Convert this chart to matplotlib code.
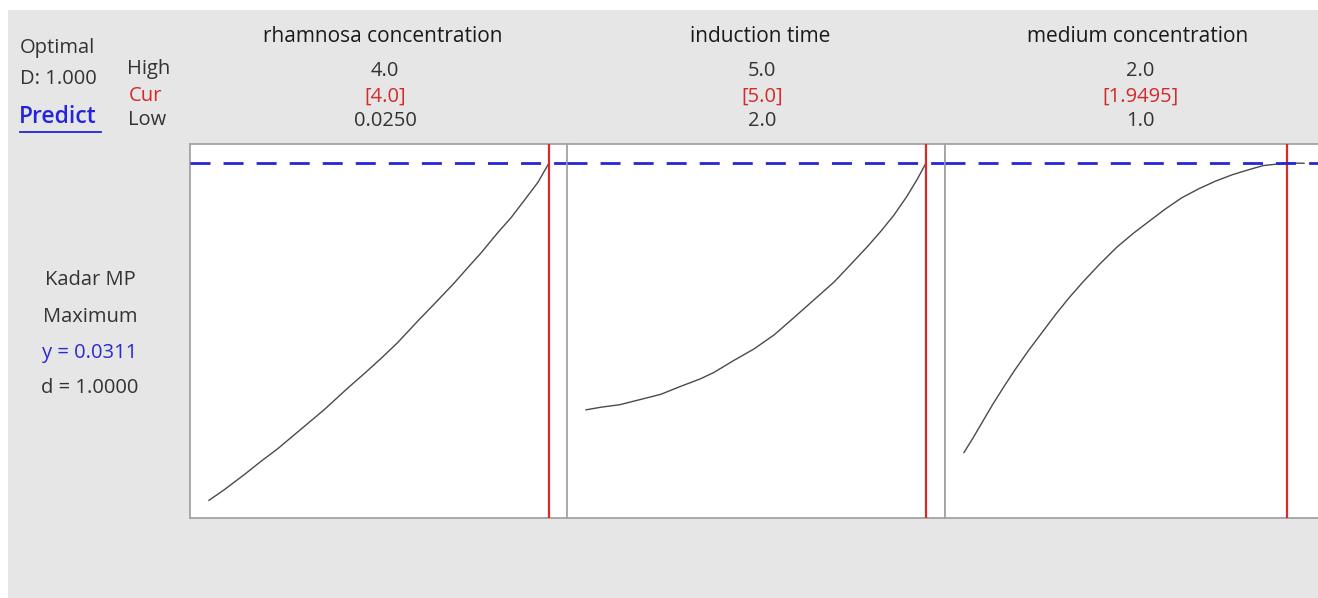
import matplotlib
matplotlib.use("Agg")
import matplotlib.pyplot as plt
from matplotlib.lines import Line2D
from matplotlib.patches import Rectangle

plt.rcParams['font.family'] = ['Open Sans', 'DejaVu Sans']
plt.rcParams['lines.scale_dashes'] = False

# ---------------- data ----------------
factors = ["rhamnosa concentration", "induction time", "medium concentration"]
high_labels = ["4.0", "5.0", "2.0"]
cur_labels = ["[4.0]", "[5.0]", "[1.9495]"]
low_labels = ["0.0250", "2.0", "1.0"]
low_vals = [0.025, 2.0, 1.0]
high_vals = [4.0, 5.0, 2.0]
cur_vals = [4.0, 5.0, 1.9495]

y_opt = 0.0311

rham_x = [0.025, 0.20, 0.44, 0.63, 0.83, 1.10, 1.37, 1.65, 1.84, 2.04, 2.23, 2.47, 2.66,
          2.89, 3.05, 3.20, 3.40, 3.56, 3.71, 3.87, 4.0]
rham_y = [0.0050, 0.0058, 0.0070, 0.0080, 0.0090, 0.0105, 0.0120, 0.0137, 0.0148, 0.0160,
          0.0172, 0.0189, 0.0202, 0.0218, 0.0230, 0.0241, 0.0257, 0.0269, 0.0282, 0.0296, 0.0311]

ind_x = [2.0, 2.13, 2.30, 2.48, 2.66, 2.83, 3.01, 3.13, 3.30, 3.48, 3.66, 3.83, 4.01, 4.19,
         4.33, 4.48, 4.60, 4.72, 4.83, 4.92, 5.0]
ind_y = [0.0120, 0.0122, 0.0124, 0.0128, 0.0132, 0.0138, 0.0144, 0.0149, 0.0158, 0.0167,
         0.0178, 0.0191, 0.0205, 0.0219, 0.0232, 0.0246, 0.0258, 0.0271, 0.0285, 0.0298, 0.0311]

med_x = [1.0, 1.026, 1.055, 1.084, 1.12, 1.15, 1.19, 1.23, 1.27, 1.31, 1.35, 1.40, 1.45,
         1.50, 1.55, 1.59, 1.64, 1.69, 1.74, 1.79, 1.84, 1.88, 1.9495, 2.0]
med_y = [0.0087, 0.0098, 0.0111, 0.0124, 0.0139, 0.0151, 0.0166, 0.0180, 0.0194, 0.0207,
         0.0219, 0.0233, 0.0246, 0.0257, 0.0267, 0.0275, 0.0284, 0.0291, 0.0297, 0.0302,
         0.0306, 0.0309, 0.0311, 0.03108]

curves_x = [rham_x, ind_x, med_x]
curves_y = [rham_y, ind_y, med_y]

# ---------------- figure ----------------
W, H = 1318, 598
fig = plt.figure(figsize=(W / 100, H / 100), dpi=100)
fig.patch.set_facecolor('white')
fig.add_artist(Rectangle((8 / W, 0), 1 - 8 / W, 1 - 10 / H, transform=fig.transFigure,
                         facecolor='#e6e6e6', edgecolor='none', zorder=0))

def fx(px):
    return px / W

def fy(py):
    return 1 - py / H

panel_left = [190, 567, 945]
panel_w = 378
top_px, bot_px = 144, 518
gray = '#a3a3a3'

ylim = (0.00363, 0.03257)

small = 14.5
for i in range(3):
    ax = fig.add_axes([fx(panel_left[i]), fy(bot_px), panel_w / W, (bot_px - top_px) / H])
    ax.set_facecolor('white')
    lo, hi = low_vals[i], high_vals[i]
    span = hi - lo
    m = span * 19 / 340
    ax.set_xlim(lo - m, hi + m)
    ax.set_ylim(*ylim)
    ax.set_xticks([])
    ax.set_yticks([])
    for s in ax.spines.values():
        s.set_color(gray)
        s.set_linewidth(1.3)
    ax.plot(curves_x[i], curves_y[i], color='#4a4a4a', lw=1.0, zorder=3)
    ax.axvline(cur_vals[i], color='#d92a2a', lw=1.6, zorder=4)
    ax.axhline(y_opt, color='#2626d9', lw=2.0, dashes=(14.4, 9.4), zorder=5)

    cx = panel_left[i] + panel_w / 2
    fig.text(fx(cx + 4), fy(36), factors[i], ha='center', va='center', fontsize=15, color='#1a1a1a')
    fig.text(fx(cx + 6), fy(71), high_labels[i], ha='center', va='center', fontsize=small, color='#333333')
    fig.text(fx(cx + 6), fy(97), cur_labels[i], ha='center', va='center', fontsize=small, color='#d42a2a')
    fig.text(fx(cx + 6), fy(121), low_labels[i], ha='center', va='center', fontsize=small, color='#333333')

# left header texts
fig.text(fx(20), fy(48), "Optimal", ha='left', va='center', fontsize=small, color='#333333')
fig.text(fx(20), fy(79), "D: 1.000", ha='left', va='center', fontsize=small, color='#333333')
fig.text(fx(19), fy(117), "Predict", ha='left', va='center', fontsize=16.5, color='#2424dd', fontweight='semibold')
fig.add_artist(Line2D([fx(20), fx(101)], [fy(132), fy(132)], color='#2424dd', lw=1.3,
                      transform=fig.transFigure))
fig.text(fx(127), fy(69), "High", ha='left', va='center', fontsize=small, color='#333333')
fig.text(fx(129), fy(96), "Cur", ha='left', va='center', fontsize=small, color='#d42a2a')
fig.text(fx(128), fy(120), "Low", ha='left', va='center', fontsize=small, color='#333333')

# response texts
fig.text(fx(90), fy(280), "Kadar MP", ha='center', va='center', fontsize=small, color='#333333')
fig.text(fx(90), fy(317), "Maximum", ha='center', va='center', fontsize=small, color='#333333')
fig.text(fx(90), fy(353), "y = 0.0311", ha='center', va='center', fontsize=small, color='#2a2ad4')
fig.text(fx(90), fy(388), "d = 1.0000", ha='center', va='center', fontsize=small, color='#333333')

fig.savefig("out.png", dpi=100, facecolor=fig.get_facecolor())
